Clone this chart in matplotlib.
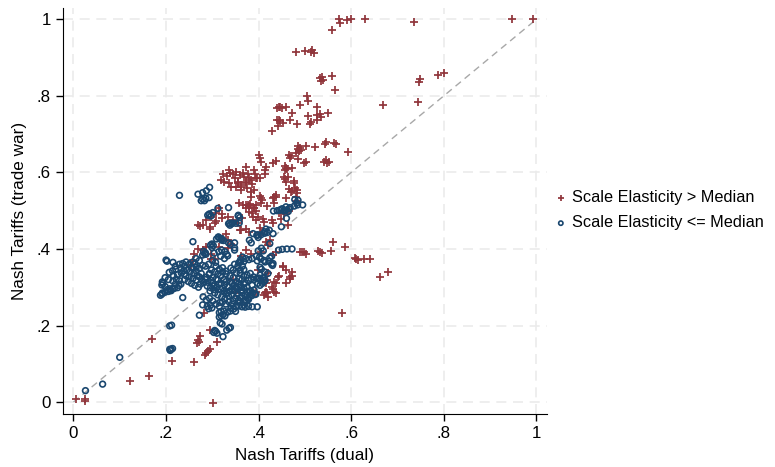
import matplotlib
matplotlib.use('Agg')
import matplotlib.pyplot as plt

#points with scale elasticity above the median (dual tariff, trade war tariff)
redPts=[(0.573,1.0),(0.575,0.989),(0.591,0.997),(0.599,1.0),(0.629,1.0),(0.735,0.993),(0.947,1.0),(0.993,1.0),(0.559,0.971),
(0.48,0.914),(0.50,0.918),(0.512,0.915),(0.516,0.920),(0.519,0.912),
(0.532,0.846),(0.536,0.850),(0.538,0.842),(0.534,0.838),(0.558,0.851),(0.564,0.815),
(0.749,0.843),(0.747,0.835),(0.787,0.853),(0.80,0.86),(0.669,0.777),(0.744,0.783),
(0.504,0.799),(0.507,0.786),(0.489,0.776),(0.443,0.772),(0.447,0.770),(0.451,0.768),(0.439,0.769),(0.46,0.77),(0.526,0.77),
(0.472,0.755),(0.55,0.756),(0.507,0.748),(0.526,0.750),(0.532,0.752),(0.535,0.745),
(0.440,0.736),(0.444,0.738),(0.447,0.733),(0.467,0.738),(0.525,0.736),(0.512,0.731),(0.510,0.727),(0.452,0.728),(0.483,0.727),(0.442,0.722),(0.429,0.709),
(0.486,0.670),(0.489,0.664),(0.484,0.660),(0.492,0.658),(0.487,0.655),(0.503,0.668),(0.521,0.665),(0.543,0.674),(0.546,0.678),(0.562,0.676),(0.567,0.674),(0.594,0.654),
(0.465,0.646),(0.47,0.642),(0.468,0.638),(0.48,0.65),(0.40,0.645),(0.402,0.637),(0.485,0.634),(0.502,0.627),(0.438,0.630),(0.432,0.625),
(0.456,0.617),(0.459,0.612),(0.461,0.61),(0.457,0.605),(0.541,0.627),(0.545,0.631),(0.548,0.624),(0.551,0.628),(0.416,0.613),(0.413,0.607),(0.406,0.627),(0.472,0.611),
(0.337,0.606),(0.345,0.597),(0.351,0.601),(0.359,0.593),(0.366,0.599),(0.369,0.588),(0.377,0.595),(0.38,0.584),(0.384,0.58),(0.373,0.575),(0.362,0.562),(0.355,0.571),(0.348,0.584),(0.341,0.562),(0.391,0.606),(0.393,0.597),(0.395,0.584),(0.402,0.584),(0.373,0.614),
(0.323,0.597),(0.331,0.590),(0.339,0.599),(0.326,0.575),(0.336,0.573),(0.318,0.581),(0.355,0.575),(0.362,0.567),(0.372,0.571),(0.374,0.558),(0.362,0.555),(0.35,0.562),(0.413,0.597),(0.396,0.584),(0.386,0.569),(0.389,0.555),
(0.454,0.588),(0.463,0.587),(0.46,0.575),(0.476,0.573),(0.478,0.558),(0.471,0.552),(0.483,0.546),(0.456,0.582),(0.476,0.577),(0.469,0.55),(0.482,0.554),(0.466,0.556),
(0.438,0.54),(0.431,0.532),(0.433,0.519),(0.418,0.512),(0.403,0.538),(0.407,0.529),(0.384,0.549),(0.404,0.532),(0.384,0.536),(0.438,0.535),(0.458,0.532),(0.481,0.535),(0.378,0.514),(0.382,0.518),(0.395,0.514),(0.405,0.519),
(0.357,0.52),(0.366,0.514),(0.373,0.508),(0.38,0.497),(0.387,0.484),(0.398,0.484),(0.395,0.475),(0.411,0.471),
(0.315,0.506),(0.308,0.494),(0.297,0.484),(0.287,0.475),(0.279,0.462),(0.268,0.462),(0.294,0.453),(0.305,0.467),(0.321,0.48),(0.333,0.484),(0.344,0.475),(0.355,0.467),(0.362,0.449),(0.373,0.453),(0.38,0.445),
(0.323,0.427),(0.333,0.423),(0.341,0.414),(0.315,0.405),(0.287,0.405),(0.279,0.397),(0.297,0.388),(0.305,0.375),(0.258,0.371),(0.254,0.358),(0.373,0.397),(0.384,0.388),(0.415,0.419),(0.424,0.423),(0.42,0.41),(0.438,0.392),
(0.452,0.353),(0.46,0.345),(0.471,0.34),(0.467,0.327),(0.442,0.327),(0.434,0.314),(0.46,0.31),(0.416,0.288),(0.42,0.275),(0.398,0.345),
(0.489,0.392),(0.499,0.392),(0.503,0.388),(0.268,0.401),
(0.428,0.475),(0.449,0.478),(0.464,0.462),(0.41,0.478),(0.404,0.441),(0.434,0.535),(0.48,0.525),(0.499,0.625),
(0.561,0.419),(0.586,0.405),(0.532,0.392),(0.528,0.395),(0.536,0.390),(0.557,0.395),(0.611,0.373),(0.607,0.376),(0.615,0.371),(0.627,0.373),(0.64,0.375),(0.68,0.34),(0.663,0.326),(0.581,0.233),(0.493,0.392),
(0.432,0.384),(0.453,0.355),(0.471,0.329),(0.468,0.322),(0.443,0.329),(0.417,0.319),(0.415,0.312),(0.428,0.301),(0.438,0.312),(0.434,0.288),(0.413,0.285),(0.411,0.280),
(0.169,0.164),(0.164,0.068),(0.212,0.108),(0.261,0.105),(0.302,-0.002),(0.269,0.162),(0.266,0.155),(0.272,0.158),(0.274,0.172),(0.287,0.128),(0.290,0.133),(0.284,0.124),(0.295,0.138),(0.31,0.156),(0.294,0.188),(0.281,0.233),(0.417,0.284),(0.437,0.285),
(0.274,0.46),(0.294,0.457),(0.308,0.473),(0.321,0.491),(0.38,0.512),(0.39,0.508),(0.372,0.515),(0.33,0.44),(0.359,0.449),(0.261,0.388),(0.297,0.373),(0.333,0.403),(0.344,0.319),(0.348,0.284),
(0.39,0.506),(0.395,0.50),(0.386,0.494),(0.364,0.482),(0.445,0.493),(0.455,0.49),(0.465,0.50),(0.431,0.469),(0.402,0.456),(0.406,0.392),(0.421,0.337),(0.43,0.295),(0.395,0.288),(0.361,0.381),
(0.005,0.008),(0.024,0.008),(0.026,0.002),(0.123,0.055)]

#points with scale elasticity at or below the median
bluePts=[(0.026,0.03),(0.063,0.047),(0.1,0.117),
(0.208,0.138),(0.211,0.138),(0.214,0.140),(0.209,0.135),(0.208,0.199),(0.212,0.201),(0.192,0.285),(0.198,0.287),(0.205,0.289),(0.211,0.291),(0.236,0.273),(0.272,0.227),(0.279,0.254),(0.289,0.25),(0.296,0.253),(0.299,0.246),(0.292,0.244),(0.307,0.185),(0.303,0.182),(0.31,0.18),(0.305,0.187),(0.321,0.204),(0.317,0.207),(0.331,0.188),(0.336,0.193),(0.339,0.195),(0.323,0.171),(0.315,0.222),(0.319,0.225),(0.323,0.228),(0.327,0.225),(0.315,0.234),(0.319,0.237),(0.325,0.238),(0.333,0.235),(0.339,0.238),(0.35,0.237),(0.357,0.251),(0.364,0.249),(0.371,0.248),(0.378,0.25),(0.378,0.268),(0.371,0.266),(0.364,0.278),(0.385,0.278),(0.392,0.281),
(0.276,0.526),(0.283,0.526),(0.312,0.506),(0.335,0.508),(0.293,0.491),(0.290,0.488),(0.335,0.466),(0.342,0.466),(0.338,0.462),(0.356,0.486),(0.359,0.482),(0.313,0.431),(0.316,0.428),(0.309,0.426),(0.32,0.423),(0.299,0.413),(0.302,0.409),(0.283,0.388),(0.279,0.384),(0.286,0.386),(0.258,0.419),(0.304,0.389),(0.314,0.393),(0.318,0.381),(0.326,0.375),(0.333,0.382),(0.348,0.403),(0.348,0.416),(0.38,0.423),(0.384,0.416),(0.396,0.436),(0.399,0.43),(0.202,0.368),(0.229,0.36),(0.236,0.362),(0.243,0.366),(0.207,0.339),(0.214,0.343),(0.221,0.347),(0.258,0.366),(0.265,0.353),(0.272,0.349),(0.279,0.357),(0.243,0.33),(0.25,0.327),(0.258,0.323),(0.265,0.319),(0.272,0.327),(0.222,0.321),(0.229,0.317),(0.232,0.308),(0.192,0.314),(0.191,0.306),(0.203,0.294),(0.21,0.292),(0.218,0.297),(0.191,0.282),(0.188,0.279),(0.274,0.308),(0.281,0.312),(0.289,0.303),(0.296,0.299),(0.303,0.294),(0.308,0.355),(0.315,0.347),(0.322,0.351),(0.329,0.342),(0.293,0.334),(0.301,0.326),(0.308,0.321),(0.312,0.319),(0.319,0.31),(0.326,0.306),(0.339,0.314),(0.346,0.305),(0.353,0.297),(0.361,0.301),(0.368,0.308),(0.375,0.332),(0.382,0.336),(0.389,0.327),(0.396,0.323),(0.403,0.332),(0.28,0.275),(0.287,0.267),(0.294,0.271),(0.301,0.264),(0.308,0.256),(0.315,0.25),(0.336,0.262),(0.343,0.256),(0.35,0.249),(0.36,0.262),(0.368,0.253),(0.374,0.264),(0.38,0.29),(0.387,0.286),(0.394,0.282),
(0.445,0.501),(0.451,0.505),(0.458,0.501),(0.468,0.508),(0.477,0.512),(0.484,0.515),(0.495,0.515),(0.388,0.44),(0.398,0.436),(0.413,0.445),(0.431,0.44),(0.449,0.458),(0.46,0.48),(0.424,0.414),(0.406,0.402),(0.399,0.395),(0.41,0.395),(0.443,0.397),(0.451,0.399),(0.461,0.4),(0.472,0.4),(0.365,0.379),(0.372,0.375),(0.379,0.372),(0.386,0.375),(0.397,0.369),(0.361,0.366),(0.365,0.355),(0.368,0.346),(0.406,0.347),(0.403,0.352),(0.431,0.362),(0.36,0.337),(0.368,0.329),(0.364,0.32),(0.371,0.312),(0.36,0.306),(0.368,0.298),(0.375,0.289),(0.382,0.28),(0.378,0.272),(0.36,0.272),(0.368,0.263),(0.39,0.32),(0.386,0.305),(0.39,0.293),(0.382,0.29),(0.411,0.314),(0.414,0.318),(0.408,0.31),(0.386,0.249),(0.397,0.249),
(0.229,0.54),(0.269,0.543),(0.279,0.547),(0.287,0.552),(0.294,0.561),(0.279,0.53),(0.286,0.532),(0.293,0.534),(0.294,0.491),(0.301,0.495),(0.297,0.486),(0.337,0.467),(0.344,0.468),(0.351,0.467),(0.358,0.468),(0.356,0.488),(0.313,0.431),(0.32,0.427),(0.324,0.422),(0.296,0.41),(0.299,0.404),(0.335,0.416),(0.339,0.412),(0.32,0.397),(0.327,0.393),(0.331,0.386),(0.281,0.394),(0.285,0.39),(0.348,0.397),(0.398,0.437),(0.405,0.437),(0.413,0.441),(0.432,0.499),(0.44,0.5),(0.448,0.503),(0.455,0.499),(0.459,0.51),(0.465,0.505),(0.464,0.498),(0.478,0.529),(0.485,0.527),(0.482,0.52),(0.416,0.452),(0.423,0.449),(0.419,0.443),(0.395,0.381),(0.402,0.379),(0.405,0.374),(0.412,0.37),(0.422,0.368),(0.414,0.366),(0.428,0.381),(0.424,0.377),(0.361,0.372),(0.368,0.367),(0.357,0.364),(0.413,0.34),(0.42,0.336),(0.428,0.36),(0.43,0.357),(0.4,0.324),(0.404,0.318),(0.413,0.319),(0.2,0.371),(0.193,0.31),(0.208,0.296),(0.215,0.297),(0.225,0.299),(0.258,0.35),(0.265,0.343),(0.276,0.336),(0.287,0.326),(0.294,0.336),(0.298,0.345),
(0.245,0.345),(0.252,0.34),(0.26,0.336),(0.267,0.33),(0.24,0.32),(0.248,0.315),(0.255,0.31),(0.262,0.305),(0.27,0.3),(0.216,0.33),(0.225,0.333),(0.233,0.337),(0.24,0.335),(0.215,0.316),(0.22,0.308),(0.228,0.305),
(0.305,0.34),(0.312,0.335),(0.318,0.33),(0.325,0.32),(0.33,0.315),(0.335,0.3),(0.342,0.295),(0.348,0.29),(0.333,0.285),(0.325,0.29),(0.318,0.295),(0.31,0.3),(0.3,0.31),(0.32,0.275),(0.327,0.27),(0.335,0.277),(0.342,0.28),(0.355,0.283),(0.362,0.29),(0.35,0.272),(0.345,0.265),(0.312,0.28),(0.305,0.285),(0.295,0.29),(0.352,0.315),(0.358,0.322),(0.345,0.325),(0.338,0.33),(0.33,0.335),(0.322,0.34),(0.345,0.345),(0.352,0.338),(0.36,0.345),(0.355,0.355),(0.348,0.36),(0.34,0.35),
(0.3,0.37),(0.307,0.365),(0.292,0.36),(0.285,0.355),(0.272,0.37),(0.265,0.375),(0.25,0.36),(0.24,0.355),(0.22,0.355),(0.215,0.365),(0.198,0.325),(0.205,0.32),(0.198,0.302),
(0.232,0.35),(0.238,0.343),(0.255,0.352),(0.262,0.361),(0.278,0.318),(0.285,0.32),(0.29,0.313),(0.297,0.318),(0.304,0.303),(0.314,0.308),(0.322,0.298),(0.329,0.283),(0.337,0.29),(0.343,0.31),(0.35,0.3),(0.357,0.31),
(0.316,0.26),(0.322,0.262),(0.329,0.256),(0.34,0.245),(0.346,0.243),(0.356,0.266),(0.364,0.285),(0.371,0.28),(0.375,0.3),(0.378,0.318),(0.384,0.322),(0.398,0.31),(0.403,0.305),(0.409,0.325)]

redX=[p[0] for p in redPts]
redY=[p[1] for p in redPts]
blueX=[p[0] for p in bluePts]
blueY=[p[1] for p in bluePts]
tickVals=[0,0.2,0.4,0.6,0.8,1]
tickLbls=['0','.2','.4','.6','.8','1']

plt.rcParams['font.family']=['Liberation Sans','DejaVu Sans']
fig=plt.figure(figsize=(7.75,4.67),dpi=100)
ax=fig.add_axes([0.081,0.1135,0.625,0.870])

red='#90353b'
navy='#1a476f'
ax.scatter(redX,redY,marker='+',s=30,linewidths=1.25,color=red,label='Scale Elasticity > Median',zorder=3)
ax.scatter(blueX,blueY,marker='o',s=17,facecolors='none',edgecolors=navy,linewidths=1.2,label='Scale Elasticity <= Median',zorder=3)
#45 degree line
ax.plot([0,1],[0,1],color='#a8a8a8',lw=1,dashes=(5,3.5),zorder=2)

ax.set_xlim(-0.023,1.023)
ax.set_ylim(-0.031,1.03)
ax.set_xticks(tickVals)
ax.set_xticklabels(tickLbls)
ax.set_yticks(tickVals)
ax.set_yticklabels(tickLbls)
ax.tick_params(labelsize=12.2,length=5,width=1,color='black')
ax.grid(True,color='#ebebeb',lw=1.2,dashes=(6,4))
ax.set_axisbelow(True)
for s in ['top','right']:
    ax.spines[s].set_visible(False)
ax.set_xlabel('Nash Tariffs (dual)',fontsize=12.3,labelpad=5)
ax.set_ylabel('Nash Tariffs (trade war)',fontsize=12.3,labelpad=7)

fig.legend(loc='center left',bbox_to_anchor=(0.710,0.55),frameon=False,fontsize=11.7,
           handlelength=0.3,handletextpad=0.55,labelspacing=0.65,borderpad=0,scatterpoints=1,markerscale=0.75)
fig.savefig('out.png',dpi=100)
